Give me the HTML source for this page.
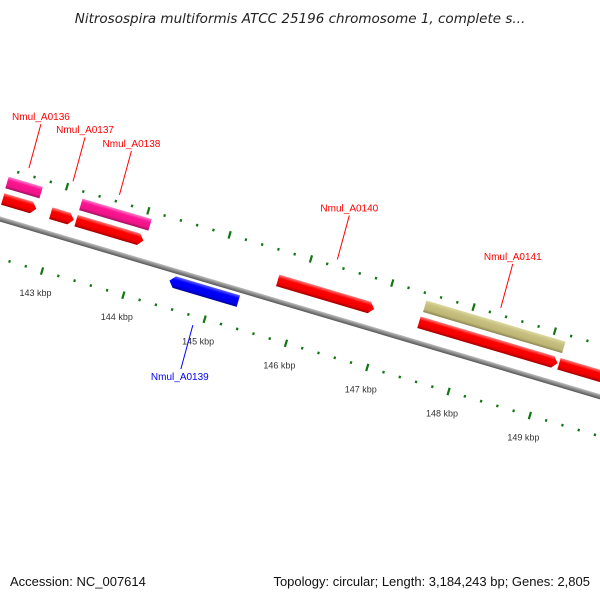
<!DOCTYPE html>
<html><head><meta charset="utf-8"><style>
body{margin:0;background:#fff;}
svg{display:block;font-family:"Liberation Sans","DejaVu Sans",sans-serif;}
</style></head><body>
<svg id="c" width="600" height="600" viewBox="0 0 600 600">
<defs>
<linearGradient id="gr" x1="0" y1="0" x2="0" y2="1"><stop offset="0" stop-color="#ff8080"/><stop offset="0.3" stop-color="#ff0000"/><stop offset="0.75" stop-color="#ee0000"/><stop offset="1" stop-color="#a00000"/></linearGradient>
<linearGradient id="gp" x1="0" y1="0" x2="0" y2="1"><stop offset="0" stop-color="#ff80c8"/><stop offset="0.3" stop-color="#ff1493"/><stop offset="0.75" stop-color="#ee1488"/><stop offset="1" stop-color="#a01060"/></linearGradient>
<linearGradient id="gb" x1="0" y1="0" x2="0" y2="1"><stop offset="0" stop-color="#6060ff"/><stop offset="0.3" stop-color="#0000ff"/><stop offset="0.75" stop-color="#0000ee"/><stop offset="1" stop-color="#0000a0"/></linearGradient>
<linearGradient id="gk" x1="0" y1="0" x2="0" y2="1"><stop offset="0" stop-color="#dcd8a0"/><stop offset="0.3" stop-color="#c8c080"/><stop offset="0.75" stop-color="#bdb574"/><stop offset="1" stop-color="#8a8450"/></linearGradient>
<linearGradient id="gl" x1="0" y1="0" x2="0" y2="1"><stop offset="0" stop-color="#c0c0c0"/><stop offset="0.5" stop-color="#888"/><stop offset="1" stop-color="#555"/></linearGradient>
</defs>
<text x="300" y="23" text-anchor="middle" font-size="13.5" font-style="italic" fill="#222" style="font-family:'DejaVu Sans',sans-serif">Nitrosospira multiformis ATCC 25196 chromosome 1, complete s...</text>
<g id="rot" transform="translate(0,219) rotate(16.5)"></g>
<g id="labels"></g>
<text x="10" y="586" font-size="13" fill="#111">Accession: NC_007614</text>
<text x="590" y="586" text-anchor="end" font-size="13" fill="#111">Topology: circular; Length: 3,184,243 bp; Genes: 2,805</text>
</svg>
<script>
const geneNames=["g1","g2","g3","pink1","pink2","blue","g4","khaki","g5","g6"];
const geneStart=[142.314,142.905,143.216,142.307,143.215,144.473,145.696,147.445,147.433,149.155];
const geneEnd=[142.727,143.188,144.044,142.727,144.067,145.32,146.882,149.155,149.138,150.6];
const geneRow=[1,1,1,2,2,-1,1,2,1,1];
const geneFill=["gr","gr","gr","gp","gp","gb","gr","gk","gr","gr"];
const geneArrow=[1,1,1,0,0,-1,1,0,1,1];
const tickKbp=[143,144,145,146,147,148,149];
const tickLabels=["143 kbp","144 kbp","145 kbp","146 kbp","147 kbp","148 kbp","149 kbp"];
const calloutNames=["Nmul_A0136","Nmul_A0137","Nmul_A0138","Nmul_A0140","Nmul_A0141","Nmul_A0139"];
const calloutKbp=[142.507,143.05,143.62,146.30,148.31,144.886];

const NS="http://www.w3.org/2000/svg";
const th=16.5*Math.PI/180, C=Math.cos(th), S=Math.sin(th);
function U(k){return 55.1+(k-143)*84.8;}
function X(u,v){return u*C-v*S;}
function Y(u,v){return 219+u*S+v*C;}
const rot=document.getElementById('rot'), lab=document.getElementById('labels');
function mk(p,t){const e=document.createElementNS(NS,t);p.appendChild(e);return e;}

let bb=mk(rot,'rect');


bb.setAttribute('x',-20);bb.setAttribute('y',-2.5);bb.setAttribute('width',700);bb.setAttribute('height',5);bb.setAttribute('fill','url(#gl)');

function tickRow(v,start,name){
 for(let i=0;i<45;i++){
  const k=start+i*0.2; const u=U(k);
  const major=Math.abs(k-Math.round(k))<0.01;
  const l=mk(rot,'line');
  
  
  const h=major?3.8:1.3;
  l.setAttribute('x1',u);l.setAttribute('x2',u);l.setAttribute('y1',v-h);l.setAttribute('y2',v+h);
  l.setAttribute('stroke','#117711');l.setAttribute('stroke-width',2.2);
 }
}
tickRow(-50,142.4,'upper-tick');
tickRow(38,142.6,'lower-tick');

tickKbp.forEach((k,i)=>{
 const u=U(k), v=61;
 const t=mk(lab,'text');
 
 
 t.setAttribute('x',X(u,v));t.setAttribute('y',Y(u,v)+3);
 t.setAttribute('font-size','9');t.setAttribute('fill','#333');t.setAttribute('text-anchor','middle');
 t.textContent=tickLabels[i];
});

const rowV={1:-20,2:-37,'-1':11};
geneStart.forEach((s,i)=>{
 const u0=U(s),u1=U(geneEnd[i]),v=rowV[geneRow[i]],h=6,a=5;
 let pts;
 if(geneArrow[i]==1) pts=[[u0,v-h],[u1-a,v-h],[u1,v],[u1-a,v+h],[u0,v+h]];
 else if(geneArrow[i]==-1) pts=[[u0+a,v-h],[u1,v-h],[u1,v+h],[u0+a,v+h],[u0,v]];
 else pts=[[u0,v-h],[u1,v-h],[u1,v+h],[u0,v+h]];
 const p=mk(rot,'polygon');
 
 
 p.setAttribute('points',pts.map(q=>q.join(',')).join(' '));
 p.setAttribute('fill','url(#'+geneFill[i]+')');
});

calloutNames.forEach((n,i)=>{
 const blue=i==5;
 const u=U(calloutKbp[i]);
 const v0=blue?47:-57;
 const x1=X(u,v0),y1=Y(u,v0);
 const x2=blue?x1-12:x1+12, y2=blue?y1+44:y1-44;
 const ln=mk(lab,'line');
 
 
 ln.setAttribute('x1',x1);ln.setAttribute('y1',y1);
 ln.setAttribute('x2',x2);ln.setAttribute('y2',y2);
 ln.setAttribute('stroke',blue?'#0000ff':'#ff0000');ln.setAttribute('stroke-width',1);
 const t=mk(lab,'text');
 
 
 t.setAttribute('x',x2+(blue?-1:0));t.setAttribute('y',blue?y2+11:y2-4);
 t.setAttribute('text-anchor','middle');t.setAttribute('font-size','10');
 t.setAttribute('fill',blue?'#0000ff':'#ff0000');
 t.textContent=n;
});
</script>
</body></html>
